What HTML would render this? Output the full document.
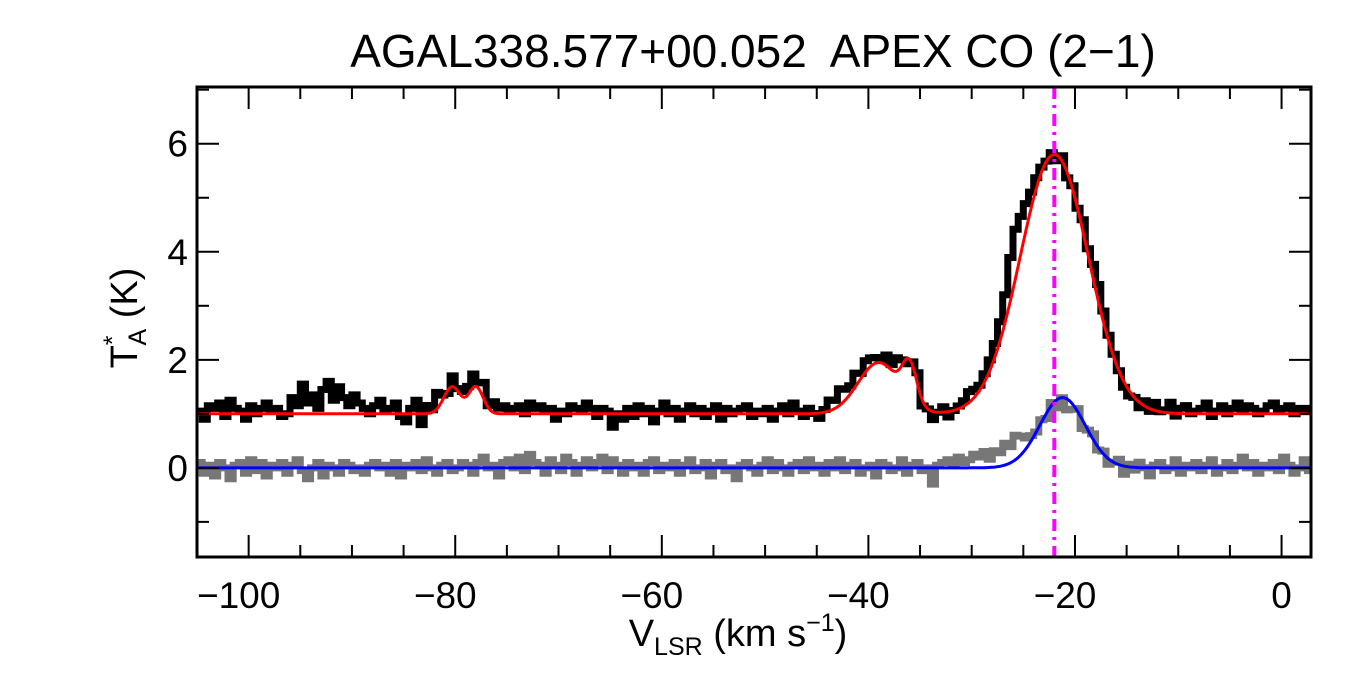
<!DOCTYPE html>
<html><head><meta charset="utf-8"><style>
html,body{margin:0;padding:0;background:#fff;}
svg{display:block;font-family:"Liberation Sans",sans-serif;}
</style></head><body>
<svg id="chart" width="1350" height="675" viewBox="0 0 1350 675" xmlns="http://www.w3.org/2000/svg">
<rect x="0" y="0" width="1350" height="675" fill="#fff"/>
<text x="753" y="67" font-size="46" text-anchor="middle" xml:space="preserve">AGAL338.577+00.052  APEX CO (2−1)</text>
<g id="plot"></g>
<g id="axes"></g>
<text x="738" y="646" font-size="38" text-anchor="middle">V<tspan font-size="25" dy="9">LSR</tspan><tspan dy="-9"> (km s</tspan><tspan font-size="25" dy="-15">−1</tspan><tspan dy="15">)</tspan></text>
<text transform="translate(137,318) rotate(-90)" font-size="38" text-anchor="middle">T<tspan font-size="25" dy="-16">*</tspan><tspan font-size="25" dx="-10" dy="25">A</tspan><tspan dy="-9"> (K)</tspan></text>
</svg>
<script>
const xTicks = [-100, -80, -60, -40, -20, 0];
const yTicks = [0, 2, 4, 6];
const vStart = -105, vStep = 0.5;
const baselineRed = 1.0;
const redAmp = [0.5, 0.5, 0.95, 0.7, 4.8];
const redCen = [-80.3, -78.0, -39.0, -36.0, -22.0];
const redSig = [0.8, 0.7, 2.0, 0.7, 3.3];
const blueAmp = [1.3];
const blueCen = [-21.2];
const blueSig = [2.2];
const markerV = -22;
const blackResid = [
0.05,-0.1,0.15,0.1,0.2,-0.05,0.25,0.1,0.05,-0.1,0.15,0.0,
0.1,0.2,0.05,0.1,-0.05,0.0,0.3,0.15,0.55,0.2,0.35,0.1,
0.45,0.6,0.25,0.5,0.3,0.15,0.35,0.2,0.1,0.0,0.15,0.25,
0.05,0.1,0.2,-0.05,-0.15,0.1,0.25,-0.2,0.15,0.05,0.3,0.1,
-0.05,0.2,0.05,0.1,0.15,0.25,0.1,0.3,0.05,0.2,0.1,0.15,
0.05,0.1,0.15,0.0,0.2,0.1,0.15,0.05,0.1,-0.1,0.05,0.0,
0.15,0.1,0.05,0.2,0.1,-0.05,0.1,0.05,-0.25,0.0,-0.1,0.1,
-0.05,0.15,0.0,0.1,-0.15,0.05,0.2,0.0,0.1,-0.1,0.05,0.15,
0.0,0.1,-0.05,0.05,0.15,-0.1,0.1,0.0,0.05,0.1,0.15,-0.05,
0.05,0.0,0.1,-0.1,0.05,0.15,0.0,0.2,0.05,-0.05,0.1,0.0,
-0.1,0.05,0.2,0.15,0.3,0.2,0.15,0.25,0.1,0.2,0.15,0.1,
0.05,0.2,0.1,0.25,0.1,-0.1,0.05,0.2,-0.1,0.0,-0.15,0.0,
0.1,-0.1,0.0,0.05,0.1,0.2,0.15,0.1,0.15,0.2,0.25,0.35,
0.5,0.8,0.9,0.7,0.5,0.3,0.2,0.1,0.0,0.05,-0.1,0.1,
-0.1,0.05,0.0,0.2,0.1,0.25,0.3,0.2,0.1,0.05,0.0,-0.1,
-0.1,0.0,-0.1,0.1,-0.05,0.15,0.0,0.05,0.2,-0.05,0.1,0.15,
0.0,0.05,0.1,0.2,-0.05,0.05,0.15,0.0,0.1,0.2,0.05,0.15,
0.1,0.0,0.05,0.15,0.2,0.05,0.1,0.15,0.0,0.1,0.05,0.1
];
const grayResid = [
0.1,-0.1,0.05,-0.15,0.1,0.0,-0.2,0.05,0.1,-0.1,0.15,-0.05,
0.1,-0.15,0.05,0.0,0.1,-0.1,0.05,0.15,-0.05,-0.2,0.0,0.1,
-0.15,0.05,0.0,-0.1,0.1,0.05,-0.05,0.0,-0.1,0.05,0.1,0.0,
0.05,-0.1,0.1,-0.15,0.05,0.0,0.1,-0.05,0.15,0.0,-0.1,0.05,
0.1,-0.05,0.0,0.1,0.05,-0.1,0.1,0.2,0.0,0.05,-0.15,0.1,
0.15,0.0,0.2,-0.05,0.25,0.1,0.05,-0.1,0.15,0.05,-0.05,0.2,
0.1,-0.1,0.05,0.15,0.0,0.1,0.2,-0.05,0.15,0.05,-0.1,0.1,
0.0,0.05,-0.1,0.1,0.15,-0.05,0.05,0.0,0.1,-0.1,0.05,0.15,
-0.05,0.0,0.1,-0.15,0.05,0.1,-0.05,0.0,-0.2,0.05,0.1,0.0,
-0.1,0.05,0.15,-0.05,0.1,0.0,-0.1,0.05,0.1,-0.05,0.15,0.0,
0.05,-0.1,0.1,0.0,0.15,-0.05,0.05,0.1,-0.1,0.0,0.05,-0.15,
0.1,0.05,-0.05,0.0,0.15,-0.1,0.05,0.1,-0.05,0.0,-0.3,0.05,
0.1,0.15,0.05,0.2,0.1,0.15,0.25,0.2,0.3,0.15,0.3,0.25,
0.4,0.3,0.45,0.35,0.2,0.1,0.0,0.05,-0.1,0.05,-0.15,0.0,
-0.2,-0.1,0.05,-0.15,0.0,0.1,-0.05,0.05,-0.1,0.0,0.1,-0.15,
0.05,-0.05,0.1,0.0,-0.15,0.05,0.1,-0.05,0.0,0.15,-0.1,0.05,
0.0,0.1,-0.05,0.05,0.15,-0.1,0.0,0.1,-0.05,0.05,0.2,0.0,
0.1,-0.1,0.05,0.0,0.1,-0.05,0.2,0.05,-0.1,0.0,0.15,-0.05
];

const L=197,R=1311,T=87,B=557;
const xMin=-105,xMax=2.85,yMin=-1.65,yMax=7.05;
const sx=v=>L+(v-xMin)/(xMax-xMin)*(R-L);
const sy=t=>B-(t-yMin)/(yMax-yMin)*(B-T);
const NS="http://www.w3.org/2000/svg";
function mk(tag,attrs,parent){const e=document.createElementNS(NS,tag);for(const k in attrs)e.setAttribute(k,attrs[k]);parent.appendChild(e);return e;}
function model(v,base,A,C,S){let t=base;for(let i=0;i<A.length;i++)t+=A[i]*Math.exp(-0.5*((v-C[i])/S[i])**2);return t;}
const plot=document.getElementById('plot'), axes=document.getElementById('axes');
const clip=mk('clipPath',{id:'clp'},plot);mk('rect',{x:L,y:T,width:R-L,height:B-T},clip);
const g=mk('g',{'clip-path':'url(#clp)'},plot);
function stepPath(resid,base,A,C,S){let d='';for(let i=0;i<resid.length;i++){const v0=vStart+i*vStep,v1=v0+vStep;const t=model(v0+vStep/2,base,A,C,S)+resid[i];const y=sy(t).toFixed(1);d+=(i?'L':'M')+sx(v0).toFixed(1)+','+y+'L'+sx(v1).toFixed(1)+','+y;}return d;}
function curvePath(base,A,C,S){let d='';for(let v=xMin;v<=xMax;v+=0.1){d+=(d?'L':'M')+sx(v).toFixed(1)+','+sy(model(v,base,A,C,S)).toFixed(1);}return d;}
const gp=mk('path',{d:stepPath(grayResid,0,blueAmp,blueCen,blueSig),fill:'none',stroke:'#777',"stroke-width":7},g);


const bp=mk('path',{d:stepPath(blackResid,baselineRed,redAmp,redCen,redSig),fill:'none',stroke:'#000',"stroke-width":7},g);


const bl=mk('path',{d:curvePath(0,blueAmp,blueCen,blueSig),fill:'none',stroke:'#0000ff',"stroke-width":3},g);


const rd=mk('path',{d:curvePath(baselineRed,redAmp,redCen,redSig),fill:'none',stroke:'#ff0000',"stroke-width":3},g);


const mv=mk('line',{x1:sx(markerV),x2:sx(markerV),y1:T,y2:B,stroke:'#ff00ff',"stroke-width":4,"stroke-dasharray":"12,6,3,6"},g);


const fr=mk('rect',{x:L,y:T,width:R-L,height:B-T,fill:'none',stroke:'#000',"stroke-width":3},axes);


for(let v=-105;v<=xMax;v+=5){const major=xTicks.includes(v);const len=major?22:12;const x=sx(v);
 const t1=mk('line',{x1:x,x2:x,y1:B,y2:B-len,stroke:'#000',"stroke-width":2},axes);
 
 
 const t2=mk('line',{x1:x,x2:x,y1:T,y2:T+len,stroke:'#000',"stroke-width":2},axes);
 
 }
xTicks.forEach(v=>{const t=mk('text',{x:sx(v)-(v<0?10:0),y:608,"font-size":37,"text-anchor":"middle"},axes);t.textContent=(v<0?'−':'')+Math.abs(v);
 
 });
for(let t=-1;t<=7;t+=1){const major=yTicks.includes(t);const len=major?22:12;const y=sy(t);
 const a=mk('line',{x1:L,x2:L+len,y1:y,y2:y,stroke:'#000',"stroke-width":2},axes);
 
 
 const b=mk('line',{x1:R,x2:R-len,y1:y,y2:y,stroke:'#000',"stroke-width":2},axes);
 
 }
yTicks.forEach(t=>{const e=mk('text',{x:188,y:sy(t)+13,"font-size":37,"text-anchor":"end"},axes);e.textContent=t;
 
 });
</script>
</body></html>
